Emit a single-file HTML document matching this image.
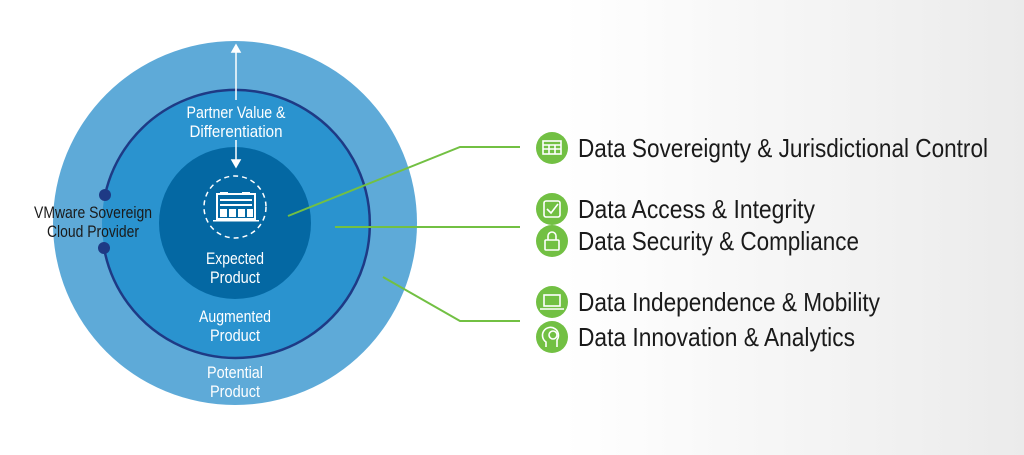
<!DOCTYPE html>
<html><head><meta charset="utf-8"><style>
html,body{margin:0;padding:0;width:1024px;height:455px;overflow:hidden}
body{background:linear-gradient(90deg,#fff 0%,#fff 55%,#ebebeb 100%)}
svg text{font-family:"Liberation Sans Narrow","Liberation Sans",sans-serif}
</style></head><body>
<svg width="1024" height="455" viewBox="0 0 1024 455" xmlns="http://www.w3.org/2000/svg">
<circle cx="235" cy="223" r="182" fill="#5eaad8"/>
<circle cx="236" cy="223" r="134" fill="#2a93cf"/>
<path d="M105 195 A134 134 0 1 1 104 248" fill="none" stroke="#1e3a85" stroke-width="2.5"/>
<circle cx="235" cy="223" r="76" fill="#0468a3"/>
<circle cx="105" cy="195" r="6" fill="#1e3a85"/>
<circle cx="104" cy="248" r="6" fill="#1e3a85"/>
<g stroke="#fff" stroke-width="1.5" fill="#fff">
<line x1="236" y1="50" x2="236" y2="100"/><path d="M232 52 L236 45 L240 52 Z"/>
<line x1="236" y1="140" x2="236" y2="162"/><path d="M232 160 L236 167 L240 160 Z"/>
</g>
<circle cx="235" cy="207" r="31" fill="none" stroke="#fff" stroke-width="1.5" stroke-dasharray="5,4"/>
<g fill="#fff"><rect x="217" y="194" width="38" height="25" fill="none" stroke="#fff" stroke-width="2"/>
<rect x="220" y="192" width="8" height="3"/><rect x="242" y="192" width="8" height="3"/>
<rect x="220" y="199" width="32" height="2"/><rect x="220" y="204" width="32" height="2"/>
<rect x="220" y="209" width="7" height="8"/><rect x="229" y="209" width="7" height="8"/><rect x="238" y="209" width="7" height="8"/><rect x="247" y="209" width="6" height="8"/>
<rect x="213" y="220" width="46" height="1.5"/></g>
<g fill="#fff" font-size="17" text-anchor="middle" lengthAdjust="spacingAndGlyphs">
<text x="236" y="118" textLength="99" lengthAdjust="spacingAndGlyphs">Partner Value &amp;</text><text x="236" y="137" textLength="93" lengthAdjust="spacingAndGlyphs">Differentiation</text>
<text x="235" y="264" textLength="58" lengthAdjust="spacingAndGlyphs">Expected</text><text x="235" y="283" textLength="50" lengthAdjust="spacingAndGlyphs">Product</text>
<text x="235" y="322" textLength="72" lengthAdjust="spacingAndGlyphs">Augmented</text><text x="235" y="341" textLength="50" lengthAdjust="spacingAndGlyphs">Product</text>
<text x="235" y="378" textLength="56" lengthAdjust="spacingAndGlyphs">Potential</text><text x="235" y="397" textLength="50" lengthAdjust="spacingAndGlyphs">Product</text>
</g>
<g fill="#1a1a1a" font-size="17" text-anchor="middle">
<text x="93" y="218" textLength="118" lengthAdjust="spacingAndGlyphs">VMware Sovereign</text><text x="93" y="237" textLength="92" lengthAdjust="spacingAndGlyphs">Cloud Provider</text>
</g>
<g stroke="#72c043" stroke-width="2" fill="none">
<polyline points="288,216 460,147 520,147"/>
<line x1="335" y1="227" x2="520" y2="227"/>
<polyline points="383,277 460,321 520,321"/>
</g>
<g fill="#72c043">
<circle cx="552" cy="148" r="16"/><circle cx="552" cy="209" r="16"/><circle cx="552" cy="241" r="16"/><circle cx="552" cy="302" r="16"/><circle cx="552" cy="337" r="16"/>
</g>
<g stroke="#fff" stroke-width="1.6" fill="none">
<rect x="543" y="141" width="18" height="13"/><line x1="543" y1="145" x2="561" y2="145"/><line x1="543" y1="149" x2="561" y2="149"/><line x1="549" y1="145" x2="549" y2="154"/><line x1="555" y1="145" x2="555" y2="154"/>
<rect x="544" y="201" width="16" height="16" rx="2"/><polyline points="547,209 551,213 558,204"/>
<rect x="545" y="240" width="14" height="10" rx="1"/><path d="M548 240 v-4 a4 4 0 0 1 8 0 v4"/>
<rect x="544" y="295" width="16" height="11"/><line x1="540" y1="309" x2="564" y2="309"/>
<path d="M546 347 v-5 a8 8 0 1 1 11 -2 v7"/><circle cx="553" cy="335" r="4"/>
</g>
<g fill="#1a1a1a" font-size="26">
<text x="578" y="157" textLength="410" lengthAdjust="spacingAndGlyphs">Data Sovereignty &amp; Jurisdictional Control</text>
<text x="578" y="218" textLength="237" lengthAdjust="spacingAndGlyphs">Data Access &amp; Integrity</text>
<text x="578" y="250" textLength="281" lengthAdjust="spacingAndGlyphs">Data Security &amp; Compliance</text>
<text x="578" y="311" textLength="302" lengthAdjust="spacingAndGlyphs">Data Independence &amp; Mobility</text>
<text x="578" y="346" textLength="277" lengthAdjust="spacingAndGlyphs">Data Innovation &amp; Analytics</text>
</g>
</svg>
</body></html>
